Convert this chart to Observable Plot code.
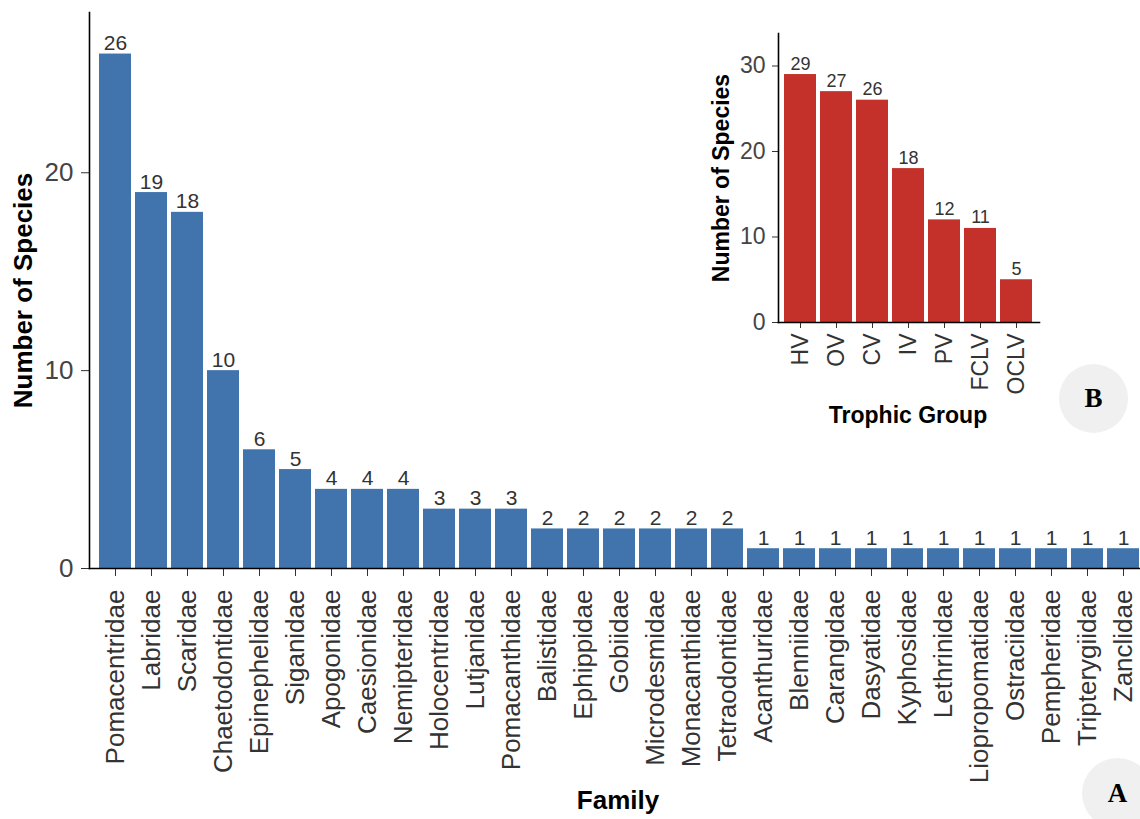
<!DOCTYPE html>
<html>
<head>
<meta charset="utf-8">
<script src="https://cdn.jsdelivr.net/npm/d3@7"></script>
<script src="https://cdn.jsdelivr.net/npm/@observablehq/plot@0.6"></script>
<style>
  html, body { margin: 0; padding: 0; background: #fff; overflow: hidden; }
  #wrap { position: relative; width: 1140px; height: 819px; overflow: hidden; }
  #main, #inset { position: absolute; }
  #main { left: 0; top: 0; }
  #inset { left: 700px; top: 20px; }
  .badge { position: absolute; border-radius: 50%; background: #f0f0f0;
           font-family: "Liberation Serif", "Times New Roman", serif; font-weight: bold;
           font-size: 27px; color: #000; display: flex; align-items: center; justify-content: center; }
</style>
</head>
<body>
<div id="wrap">
  <div id="main"></div>
  <div id="inset"></div>
  <div class="badge" style="left:1059px; top:364px; width:69px; height:69px;">B</div>
  <div class="badge" style="left:1082px; top:758px; width:71px; height:71px;">A</div>
</div>
<script>
const families = ["Pomacentridae","Labridae","Scaridae","Chaetodontidae","Epinephelidae","Siganidae","Apogonidae","Caesionidae","Nemipteridae","Holocentridae","Lutjanidae","Pomacanthidae","Balistidae","Ephippidae","Gobiidae","Microdesmidae","Monacanthidae","Tetraodontidae","Acanthuridae","Blenniidae","Carangidae","Dasyatidae","Kyphosidae","Lethrinidae","Liopropomatidae","Ostraciidae","Pempheridae","Tripterygiidae","Zanclidae"];
const familyCounts = [26,19,18,10,6,5,4,4,4,3,3,3,2,2,2,2,2,2,1,1,1,1,1,1,1,1,1,1,1];
const groups = ["HV","OV","CV","IV","PV","FCLV","OCLV"];
const groupCounts = [29,27,26,18,12,11,5];
const mainTicks = [0,10,20];
const insetTicks = [0,10,20,30];

const famData = families.map((f,i) => ({family: f, count: familyCounts[i]}));
const grpData = groups.map((g,i) => ({group: g, count: groupCounts[i]}));

const FONT = "'Liberation Sans', Arial, sans-serif";

const main = Plot.plot({
  width: 1140, height: 819,
  marginLeft: 89, marginTop: 12, marginBottom: 251, marginRight: 0,
  style: {fontFamily: FONT, background: "transparent"},
  x: {domain: families, range: [89, 1149], paddingInner: 0.1, paddingOuter: 0.15},
  y: {domain: [0, 28.1]},
  marks: [
    Plot.barY(famData, {x: "family", y: "count", fill: "#4174ad"}),
    Plot.text(famData, {x: "family", y: "count", text: d => String(d.count), lineAnchor: "bottom", dy: -4, fontSize: 21, fill: "#333"}),
    Plot.axisY({ticks: mainTicks, tickSize: 8, tickPadding: 8, fontSize: 26, color: "#444", label: null, stroke: "#333"}),
    Plot.axisX({tickRotate: -90, tickSize: 8, tickPadding: 13, fontSize: 26, color: "#333", label: null, stroke: "#333"}),
    Plot.frame({anchor: "left", stroke: "#000", strokeWidth: 1.6}),
    Plot.frame({anchor: "bottom", stroke: "#000", strokeWidth: 1.6}),
    Plot.text(["Number of Species"], {frameAnchor: "left", rotate: -90, textAnchor: "middle", lineAnchor: "middle", dx: -66, fontSize: 26, fontWeight: "bold", fill: "#000"}),
    Plot.text(["Family"], {frameAnchor: "bottom", textAnchor: "middle", lineAnchor: "middle", dx: 3, dy: 232, fontSize: 26, fontWeight: "bold", fill: "#000"})
  ]
});
document.getElementById("main").appendChild(main);

const inset = Plot.plot({
  width: 440, height: 420,
  marginLeft: 78, marginTop: 13, marginBottom: 118, marginRight: 101,
  style: {fontFamily: FONT, background: "transparent"},
  x: {domain: groups, range: [78, 338.6], paddingInner: 0.1, paddingOuter: 0.15},
  y: {domain: [0, 33.8]},
  marks: [
    Plot.barY(grpData, {x: "group", y: "count", fill: "#c3312a"}),
    Plot.text(grpData, {x: "group", y: "count", text: d => String(d.count), lineAnchor: "bottom", dy: -5, fontSize: 18, fill: "#333"}),
    Plot.axisY({ticks: insetTicks, tickSize: 6, tickPadding: 7, fontSize: 23, color: "#444", label: null, stroke: "#333"}),
    Plot.axisX({tickRotate: -90, tickSize: 6, tickPadding: 5, fontSize: 23, color: "#333", label: null, stroke: "#333"}),
    Plot.frame({anchor: "left", stroke: "#000", strokeWidth: 1.6}),
    Plot.frame({anchor: "bottom", stroke: "#000", strokeWidth: 1.6}),
    Plot.text(["Number of Species"], {frameAnchor: "left", rotate: -90, textAnchor: "middle", lineAnchor: "middle", dx: -57, fontSize: 23, fontWeight: "bold", fill: "#000"}),
    Plot.text(["Trophic Group"], {frameAnchor: "bottom", textAnchor: "middle", lineAnchor: "middle", dx: -1, dy: 93, fontSize: 23, fontWeight: "bold", fill: "#000"})
  ]
});
document.getElementById("inset").appendChild(inset);
</script>
</body>
</html>
